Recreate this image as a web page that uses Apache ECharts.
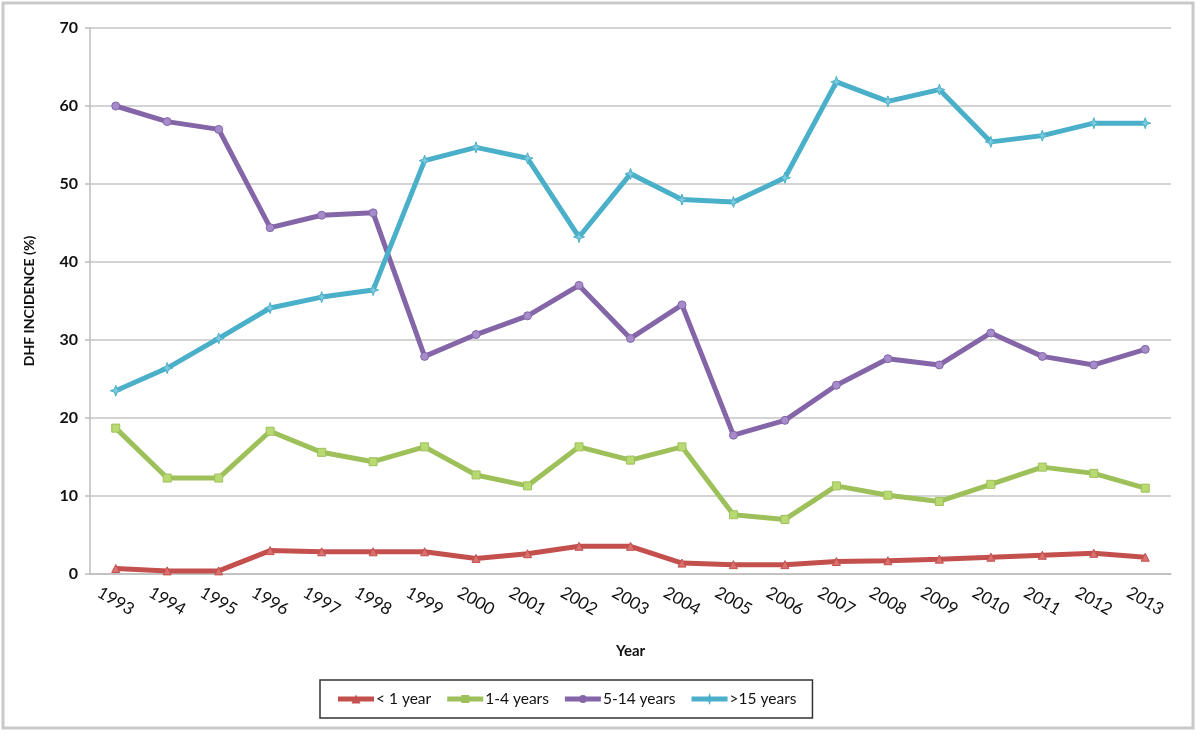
<!DOCTYPE html>
<html>
<head>
<meta charset="utf-8">
<script src="https://cdn.jsdelivr.net/npm/echarts@6/dist/echarts.min.js"></script>
<style>
html,body{margin:0;padding:0;background:#fff;}
#chart{width:1200px;height:734px;}
</style>
</head>
<body>
<div id="chart"></div>
<script>
const years = ['1993','1994','1995','1996','1997','1998','1999','2000','2001','2002','2003','2004','2005','2006','2007','2008','2009','2010','2011','2012','2013'];
const under1 = [0.7,0.4,0.4,3.0,2.85,2.85,2.85,2.0,2.6,3.55,3.55,1.4,1.2,1.2,1.6,1.7,1.9,2.15,2.4,2.65,2.15];
const age1to4 = [18.7,12.3,12.3,18.3,15.6,14.4,16.3,12.7,11.3,16.3,14.6,16.3,7.6,7.0,11.3,10.1,9.3,11.5,13.7,12.9,11.0];
const age5to14 = [60.0,58.0,57.0,44.4,46.0,46.3,27.9,30.7,33.1,37.0,30.2,34.5,17.8,19.7,24.2,27.6,26.8,30.9,27.9,26.8,28.8];
const over15 = [23.5,26.4,30.2,34.1,35.5,36.4,53.0,54.7,53.3,43.2,51.3,48.0,47.7,50.8,63.1,60.6,62.1,55.4,56.2,57.8,57.8];
const seriesNames = ['< 1 year','1-4 years','5-14 years','>15 years'];
const yTicks = {min:0, max:70, interval:10};

const colors = ['#C4504E','#9DC05A','#8466A8','#4AAFC8'];
const markerFill = ['#D9716F','#B9DA72','#A68BCB','#7CCBDF'];
const starPath = 'path://M0,-10 L2.5,-2.5 L10,0 L2.5,2.5 L0,10 L-2.5,2.5 L-10,0 L-2.5,-2.5 Z';
const symbols = ['triangle','rect','circle',starPath];
const sizes = [8,8,8,11];
const dataSets = [under1, age1to4, age5to14, over15];

const bar = 'M0,4.5 L36,4.5 L36,9.5 L0,9.5 Z ';
const legendIcons = [
  'path://' + bar + 'M13.5,11.5 L18,2.5 L22.5,11.5 Z',
  'path://' + bar + 'M14,3 L22,3 L22,11 L14,11 Z',
  'path://' + bar + 'M14,7 A4,4 0 1,1 22,7 A4,4 0 1,1 14,7 Z',
  'path://' + bar + 'M18,1 L19.5,5.5 L24,7 L19.5,8.5 L18,13 L16.5,8.5 L12,7 L16.5,5.5 Z'
];

const font = 'Lato, "Open Sans", sans-serif';
const chart = echarts.init(document.getElementById('chart'));
chart.setOption({
  animation:false,
  backgroundColor:'#fff',
  textStyle:{fontFamily:font},
  grid:{left:90, right:29, top:28, bottom:160, containLabel:false},
  graphic:[{type:'rect', shape:{x:3, y:3, width:1190, height:725}, style:{fill:'none', stroke:'#c9c9c9', lineWidth:3}, z:-1}],
  legend:{
    data:seriesNames.map((n,i)=>({name:n, icon:legendIcons[i], itemStyle:{color:colors[i], borderWidth:0}})),
    left:320, top:680,
    padding:[11,16,11,18],
    itemGap:16, itemWidth:36, itemHeight:13,
    borderColor:'#333', borderWidth:1.5,
    textStyle:{fontSize:15.5, color:'#111', fontFamily:font, padding:[0,0,0,-3]}
  },
  xAxis:{
    type:'category', data:years, boundaryGap:true,
    name:'Year', nameLocation:'middle', nameGap:70,
    nameTextStyle:{fontSize:15, fontWeight:'bold', color:'#111', fontFamily:font},
    axisLine:{show:true, lineStyle:{color:'#bdbdbd', width:1.5}},
    axisTick:{show:false},
    axisLabel:{rotate:-30, align:'center', verticalAlign:'middle', margin:27, fontSize:17, color:'#111', fontFamily:font},
  },
  yAxis:{
    type:'value', min:yTicks.min, max:yTicks.max, interval:yTicks.interval,
    name:'DHF INCIDENCE (%)', nameLocation:'middle', nameGap:54, nameRotate:90,
    nameTextStyle:{fontSize:14, fontWeight:'bold', color:'#111', fontFamily:font},
    axisLine:{show:true, lineStyle:{color:'#bdbdbd', width:1.5}},
    axisTick:{show:true, length:5, lineStyle:{color:'#bdbdbd', width:1.5}},
    axisLabel:{fontSize:16, fontWeight:'bold', color:'#111', margin:12, fontFamily:font},
    splitLine:{show:true, lineStyle:{color:'#c4c4c4', width:1.5}}
  },
  series: dataSets.map((d,i)=>({
    name:seriesNames[i], type:'line', data:d,
    symbol:symbols[i], symbolSize:sizes[i], showSymbol:true,
    lineStyle:{color:colors[i], width:5},
    itemStyle:{color:markerFill[i], borderColor:colors[i], borderWidth:1},
    z: 2+i
  }))
});
</script>
</body>
</html>
